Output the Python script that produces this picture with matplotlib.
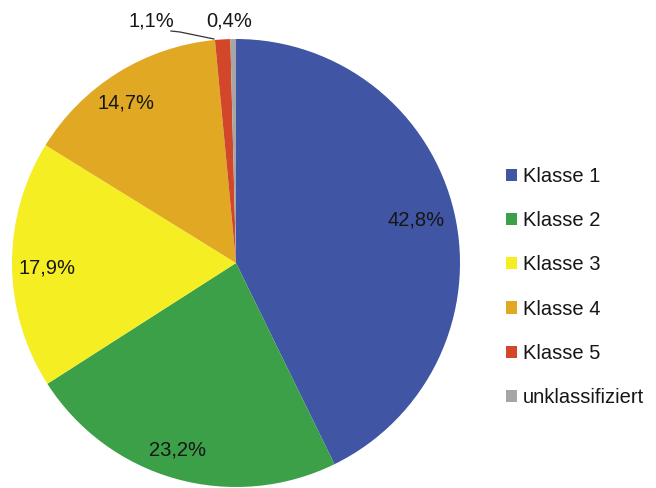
import matplotlib
matplotlib.use("Agg")
import matplotlib.pyplot as plt
from matplotlib.patches import Patch

plt.rcParams['font.family'] = ['Liberation Sans', 'DejaVu Sans']

categories = ["Klasse 1", "Klasse 2", "Klasse 3", "Klasse 4", "Klasse 5", "unklassifiziert"]
values = [42.8, 23.2, 17.9, 14.7, 1.1, 0.4]
labels = ["42,8%", "23,2%", "17,9%", "14,7%", "1,1%", "0,4%"]
colors = ["#4055A3", "#3BA048", "#F5EE22", "#E1A823", "#D2472A", "#A6A6A6"]

W, H = 656, 488
fig = plt.figure(figsize=(W / 100, H / 100), dpi=100)
cx, cy, r = 236, 263, 224
ax = fig.add_axes([(cx - r) / W, (H - cy - r) / H, 2 * r / W, 2 * r / H])

wedges, _ = ax.pie(values, colors=colors, startangle=90, counterclock=False,
                   radius=1.0, center=(0, 0), frame=True,
                   wedgeprops=dict(linewidth=0))
ax.set_xlim(-1, 1)
ax.set_ylim(-1, 1)
ax.set_aspect('auto')
ax.axis('off')

def px(x, y):
    return ((x - cx) / r, (cy - y) / r)

FS = 14.5
label_pos = [(416, 220), (178, 450), (47, 268), (126, 103), (151, 21), (229, 21)]
for lab, (x, y) in zip(labels, label_pos):
    ax.text(*px(x, y), lab, ha='center', va='center', fontsize=FS, color='#161616',
            clip_on=False)

# leader line for the 1,1% label
pts = [px(171, 31), px(180, 32), px(214, 39)]
ax.plot([p[0] for p in pts], [p[1] for p in pts],
        color='#333333', lw=0.9, clip_on=False)

handles = [Patch(facecolor=c, edgecolor='none') for c in colors]
fig.legend(handles, categories, loc='center left', bbox_to_anchor=(506 / W, 1 - 287 / H),
           frameon=False, fontsize=FS, handlelength=0.55, handleheight=0.55,
           handletextpad=0.3, labelspacing=1.25, labelcolor='#161616',
           borderpad=0, borderaxespad=0)

fig.savefig("out.png", dpi=100)
